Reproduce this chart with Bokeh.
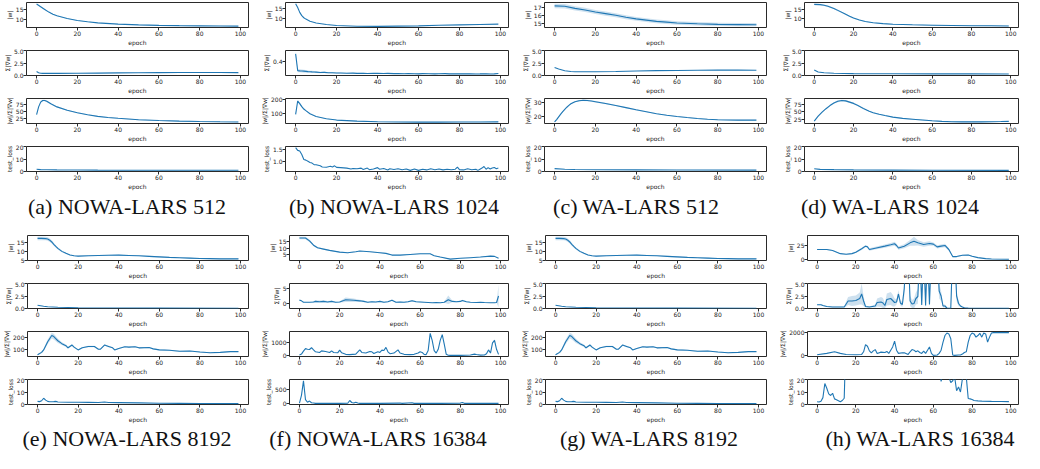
from bokeh.plotting import figure
from bokeh.models import Range1d, DataRange1d, FixedTicker, PrintfTickFormatter, Div
from bokeh.layouts import row, column
from bokeh.embed import file_html
from bokeh.resources import INLINE

# ---------------- data: (epoch, value[, band half-width]) ----------------
a_w = [(0,17.6,.2),(2,16.3,.2),(4,15.0,.2),(6,13.7,.15),(8,12.7,.15),(10,11.9,.15),(15,10.6,.12),(20,9.6,.1),(25,9.0,.1),(30,8.5,.1),(40,7.9,.1),(50,7.5,.1),(60,7.3,.1),(70,7.15,.1),(80,7.05,.1),(90,6.95,.1),(99,6.9,.1)]
a_g = [(0,.8),(1,.55),(2,.45),(3,.42),(5,.42),(10,.42),(20,.45),(30,.48),(40,.52),(50,.55),(60,.58),(70,.6),(80,.6),(90,.6),(99,.58)]
a_r = [(0,37,1),(1,65,2),(2,82,3),(3,88,3),(4,88,3),(5,85,3),(7,76,2),(10,65,2),(15,53,1.5),(20,44,1.5),(25,37,1.5),(30,31,1.5),(35,27,1.5),(40,24,1.5),(50,19,1.5),(60,16,1.5),(70,14,1.5),(80,12.5,1.5),(90,11.5,1.5),(99,11,1.5)]
a_l = [(0,1.8),(2,1.5),(5,1.4),(10,1.3),(20,1.2),(30,1.1),(40,1.05),(60,1.0),(80,1.0),(99,1.0)]

b_w = [(0,17.5),(1,15.5),(2,13.0),(3,11.3),(4,10.2),(5,9.5),(7,8.4),(10,7.5),(15,6.7),(20,6.2),(30,5.8),(40,5.75),(50,5.85),(60,6.0),(70,6.3),(80,6.5),(90,6.7),(99,6.9)]
b_g = [(0,.50,.03),(1,.275,.02),(2,.272,.02),(3,.27,.02),(4,.268,.02),(5,.265,.018),(6,.262,.016),(7,.26,.015),(8,.258,.014),(9,.257,.013),(10,.255,.012),(12,.25,.01),(14,.252,.01),(16,.247,.008),(18,.246,.008),(20,.243,.006),(22,.244,.006),(25,.24,.005),(28,.241,.005),(30,.238,.005),(33,.24,.005),(35,.237,.005),(38,.239,.005),(40,.238,.005),(43,.236,.005),(45,.238,.005),(48,.235,.005),(50,.237,.005),(53,.234,.005),(55,.236,.005),(58,.233,.005),(60,.232,.005),(62,.235,.005),(65,.234,.005),(68,.232,.005),(70,.233,.005),(73,.235,.005),(75,.232,.005),(78,.233,.005),(80,.231,.005),(83,.233,.005),(85,.232,.005),(88,.23,.005),(90,.231,.005),(93,.233,.005),(95,.23,.005),(97,.232,.005),(99,.236,.005)]
b_r = [(0,90,5),(1,190,10),(2,170,8),(3,148,6),(4,130,5),(5,118,4),(7,95,3),(10,75,2),(15,58,2),(20,48,2),(30,40,2),(40,36,2),(50,34,2),(60,33,2),(70,33,2),(80,33.5,2),(90,34,2),(99,35,2)]
b_l = [(0,1.6),(1,1.48),(2,1.45),(3,1.3),(4,1.08),(5,1.05),(6,1.0),(7,.95),(8,.92),(9,.85),(10,.85),(12,.8),(13,.75),(15,.74),(17,.78),(18,.75),(19,.8),(20,.73),(22,.72),(25,.7),(27,.66),(28,.68),(30,.67),(32,.7),(33,.64),(35,.7),(36,.63),(38,.66),(40,.72),(41,.65),(43,.68),(45,.62),(46,.67),(48,.64),(50,.67),(52,.63),(54,.66),(56,.6),(58,.66),(60,.6),(62,.65),(64,.62),(66,.67),(68,.63),(70,.66),(72,.62),(74,.65),(76,.63),(78,.65),(79,.74),(80,.63),(82,.62),(84,.67),(86,.63),(88,.65),(89,.6),(90,.65),(91,.7),(92,.77),(93,.65),(94,.72),(95,.66),(96,.7),(97,.73),(98,.67),(99,.7)]

c_w = [(0,17.2,.28),(5,17.15,.28),(10,16.9,.27),(15,16.7,.26),(20,16.45,.26),(25,16.25,.25),(30,16.05,.25),(35,15.8,.25),(40,15.6,.24),(45,15.45,.24),(50,15.3,.23),(55,15.2,.22),(60,15.1,.22),(70,15.0,.21),(80,14.93,.2),(90,14.9,.2),(99,14.88,.2)]
c_g = [(0,1.6),(2,1.3),(5,.95),(8,.8),(10,.75),(20,.75),(30,.8),(40,.9),(50,.97),(60,1.0),(70,1.05),(80,1.07),(90,1.08),(99,1.05)]
c_r = [(0,15.8,.3),(1,17.5,.4),(2,19.5,.4),(3,21.5,.4),(4,23.3,.4),(5,25,.4),(6,26.5,.4),(7,27.8,.4),(8,29,.4),(9,29.8,.4),(10,30.5,.4),(12,31.2,.5),(14,31.5,.5),(16,31.4,.5),(18,31,.5),(20,30.5,.5),(25,29.2,.5),(30,27.7,.4),(35,26.2,.4),(40,24.6,.4),(45,23.2,.3),(50,21.8,.3),(55,20.7,.3),(60,19.8,.3),(65,19,.3),(70,18.3,.3),(75,17.8,.3),(80,17.4,.3),(85,17.2,.3),(90,17.1,.3),(99,17.1,.3)]
c_l = [(0,2.3),(5,1.8),(10,1.6),(20,1.4),(40,1.3),(60,1.2),(99,1.1)]

d_w = [(0,17.4,.4),(3,17.3,.4),(5,17.0,.4),(7,16.4,.4),(10,15.3,.4),(12,14.3,.4),(15,12.8,.3),(18,11.2,.3),(20,10.3,.3),(23,9.3,.3),(26,8.5,.2),(30,7.9,.2),(35,7.4,.2),(40,7.1,.2),(50,6.8,.2),(60,6.6,.2),(70,6.45,.2),(80,6.35,.2),(90,6.3,.2),(99,6.2,.2)]
d_g = [(0,1.1),(2,.7),(5,.55),(10,.45),(20,.38),(40,.35),(60,.33),(80,.32),(99,.3)]
d_r = [(0,20,1),(2,36,1.5),(4,49,2),(6,60,2),(8,70,2),(10,78,2.5),(12,84,3),(14,86,3),(16,85,3),(18,81,3),(20,77,2.5),(22,71,2),(25,61,2),(28,52,1.5),(30,47,1.5),(33,42,1.5),(36,38,1.5),(40,33,1.5),(45,29,1.5),(50,26.5,1.5),(55,24,1.5),(60,21.5,1.5),(65,19.5,1.5),(70,18.5,1.5),(75,18,1.5),(80,17.8,1.5),(85,18,1.5),(90,18.5,1.5),(95,19,1.5),(99,19.5,1.5)]
d_l = [(0,2.2),(3,1.7),(10,1.5),(20,1.3),(40,1.1),(60,1.0),(99,.9)]

e_w = [(0,17.3,1.0),(2,17.3,1.0),(4,17.2,1.0),(5,17.0,1.0),(6,16.3,1.0),(7,15.3,.9),(8,14.0,.8),(9,12.8,.7),(10,11.7,.6),(12,10.0,.5),(14,8.9,.4),(16,8.0,.3),(18,7.5,.3),(20,7.3,.3),(25,7.5,.3),(30,7.7,.3),(35,7.8,.3),(40,7.9,.3),(45,7.7,.3),(50,7.5,.3),(55,7.2,.3),(60,6.9,.3),(65,6.6,.3),(70,6.4,.3),(75,6.2,.3),(80,6.0,.3),(85,5.9,.3),(90,5.8,.3),(95,5.8,.3),(99,5.8,.3)]
e_g = [(0,.65),(3,.45),(5,.35),(10,.25),(20,.15),(40,.1),(60,.08),(99,.06)]
e_r = [(0,52,5),(2,73,8),(3,94,10),(5,164,20),(7,218,25),(8,209,25),(10,173,20),(12,148,12),(14,130,10),(15,112,8),(17,136,8),(18,118,8),(20,94,6),(22,112,6),(25,124,6),(28,124,6),(30,100,5),(31,100,5),(33,136,6),(35,124,6),(37,112,5),(38,94,5),(40,106,5),(43,121,5),(45,118,5),(48,121,5),(50,112,5),(55,115,5),(57,103,5),(60,94,5),(65,91,5),(70,82,5),(75,85,5),(80,76,5),(85,70,4),(90,73,4),(95,79,4),(99,79,4)]
e_l = [(0,2.5),(1,2.3),(2,3.0),(3,5.0),(4,3.5),(5,2.5),(6,2.2),(8,2.3),(9,2.5),(10,2.0),(15,1.8),(20,1.8),(25,1.7),(30,1.6),(33,2.0),(35,1.6),(40,1.5),(50,1.3),(60,1.0),(70,.9),(80,.8),(99,.7)]

f_w = [(0,17.8,1),(3,17.8,1),(5,15.5,1),(7,12.2,.8),(9,10.2,.6),(12,9.2,.5),(15,8.2,.4),(20,6.9,.3),(24,6.4,.3),(28,7.2,.3),(30,7.7,.3),(35,7.2,.3),(40,6.4,.3),(43,5.9,.3),(46,4.6,.3),(50,4.6,.3),(55,5.1,.3),(60,5.6,.3),(65,5.6,.3),(67,4.1,.3),(70,3.1,.3),(75,1.5,.2),(80,2.1,.2),(85,2.6,.2),(90,3.1,.2),(95,3.8,.2),(97,3.6,.2),(99,2.1,.2)]
f_g = [(0,1.05,.1),(1,.8,.1),(2,.3,.1),(5,.3,.1),(7,.4,.3),(8,.6,.4),(10,.5,.4),(12,.6,.4),(14,.4,.3),(16,.6,.3),(18,.3,.2),(20,.4,.2),(22,.9,.6),(23,1.2,.8),(25,1.1,.7),(27,1.0,.6),(30,.8,.4),(32,.6,.3),(34,.3,.2),(36,.5,.2),(38,.4,.2),(40,.6,.2),(42,.3,.2),(44,.5,.2),(46,1.0,.3),(48,.3,.2),(50,.4,.2),(52,.3,.2),(54,.5,.2),(56,.8,.3),(58,.5,.2),(60,.4,.2),(62,.3,.1),(64,.2,.1),(66,.1,.1),(68,.2,.1),(70,.1,.1),(72,.3,.2),(74,1.2,1.5),(76,.6,.3),(78,.5,.2),(80,.6,.2),(81,.9,.3),(83,.5,.2),(85,.3,.1),(88,.2,.1),(90,.3,.1),(92,.2,.1),(95,.1,.1),(97,.1,.1),(98,.2,.1),(99,2.5,4.0)]
f_r = [(0,50),(1,120),(2,350),(3,550),(4,500),(5,480),(6,620),(7,450),(8,300),(10,250),(11,370),(13,330),(15,250),(16,370),(17,250),(19,220),(20,430),(21,220),(23,100),(25,80),(28,120),(30,450),(31,250),(33,200),(35,330),(36,300),(37,170),(39,300),(40,250),(41,430),(42,400),(43,650),(44,300),(45,150),(47,200),(49,450),(50,200),(52,100),(55,80),(57,100),(59,200),(60,300),(61,250),(62,100),(63,80),(64,400),(65,1750,60),(66,1200),(67,400),(68,200),(69,500),(70,1200),(71,1650,50),(72,900),(73,100),(74,30),(75,20),(78,30),(80,20),(85,50),(87,120),(88,90),(90,40),(92,50),(93,150),(94,450),(95,200),(96,1000),(97,1200,100),(98,500),(99,100)]
f_l = [(0,30),(1,300),(2,800,10),(3,150),(4,60),(5,100),(6,40),(7,30),(8,20),(10,20),(15,20),(20,20),(24,25),(25,120),(26,50),(27,30),(28,60),(29,30),(30,20),(40,20),(50,30),(51,20),(56,40),(57,20),(70,20),(80,30),(81,50),(82,20),(90,20),(99,20)]

g_w = list(e_w)
g_g = list(e_g)
g_r = list(e_r)
g_l = list(e_l)

h_w = [(0,17.3,1),(5,17.3,1),(8,15.5,1),(12,10,.8),(15,9,.8),(18,10,1),(20,12.5,1.5),(23,18.5,2),(25,23.2,2),(26,22,2),(27,17.3,2),(30,19.6,2.5),(35,23.2,3),(38,25.6,3),(40,27.4,3.5),(41,24.4,3),(42,20,3),(45,23.2,3.5),(48,29,5),(50,32,8),(52,29.2,5),(55,26.2,4),(58,28,4),(60,26.8,3),(62,22,3),(64,23.2,3),(66,24.4,3),(68,17.3,2),(70,4.8,1),(72,4.8,1),(75,7.1,1),(78,7.7,1),(80,5.4,1),(83,3,.5),(87,1.2,.3),(90,.6,.2),(99,0,.1)]
h_g = [(0,.75,.1),(2,.75,.1),(3,.6,.1),(5,.4,.1),(8,.3,.1),(14,.3,.1),(15,.9,.5),(16,1.5,.8),(18,1.5,1),(20,1.6,1),(22,2.0,1.2),(23,2.9,2.1),(24,1.5,1),(25,.4,.2),(27,.3,.1),(30,.5,.3),(31,1.2,.8),(33,1.3,1.0),(34,1.1,1.0),(35,.6,.5),(36,1.8,1.2),(38,2.0,1.3),(39,1.6,1.2),(40,1.2,.8),(41,1.3,.5),(42,2.9,.8),(43,1.1,.5),(44,.8,.5),(45,4.0,1.5),(46,12,4),(47,12,4),(48,1.5,1),(49,.9,.8),(50,1.0,1),(51,2.0,1.2),(52,2.4,1.5),(53,12,4),(54,.7,.5),(55,12,4),(56,.6,.5),(57,12,4),(58,.8,.5),(59,12,4),(60,12,4),(61,12,4),(62,12,4),(63,3.5,1.5),(64,2.5,1),(65,.5,.3),(66,.5,.3),(67,.1,.05),(69,.05,.05),(70,12,4),(71,12,4),(72,2.5,1),(73,1.0,.5),(74,.5,.2),(75,.3,.1),(76,.15,.05),(78,.08,.03),(80,.05,.02),(99,.03,.01)]
h_r = [(0,85),(5,200),(9,340),(12,200),(15,110),(20,85),(23,110),(24,340),(25,960),(26,820),(27,420),(28,250),(29,420),(30,530),(31,200),(33,310),(35,280),(36,370),(37,200),(38,480),(39,760),(40,1270),(41,480),(42,200),(44,250),(45,250),(47,110),(48,340),(49,530),(50,480),(51,340),(52,420),(53,280),(54,200),(55,390),(56,200),(57,480),(58,760),(59,200),(60,30),(62,60),(63,200),(64,480),(65,1180),(66,1750),(67,1970),(68,1890),(69,1470),(70,60),(71,30),(73,60),(74,60),(75,140),(76,280),(77,340),(78,1180),(79,1750),(80,1970),(81,1890),(82,1610),(83,1750),(84,1940),(85,1610),(86,1970),(87,1890),(88,1180),(89,1610),(90,1970),(91,2000),(95,2000),(99,2000)]
h_l = [(0,2.2),(1,2.0),(2,2.6),(3,5.5),(4,16.8),(5,13.0),(6,8.5),(7,7.2),(8,9.0),(9,4.5),(10,3.8),(11,3.0),(12,2.2),(13,3.2),(14,5.0),(15,60),(20,80),(30,90),(40,70),(50,60),(60,50),(63,30),(64,18.5),(65,25),(66,30),(67,22),(68,22),(69,17.5),(70,19),(71,22),(72,11),(73,14),(74,10),(75,20.5),(76,30),(77,22),(78,4.8),(79,4.5),(80,4.0),(81,3.2),(83,2.9),(85,2.7),(90,2.5),(95,2.4),(99,2.3)]

# ---------------- labels / ticks ----------------
y_labels = ["|w|", "\u03a3|\u2207w|", "|w|/\u03a3|\u2207w|", "test_loss"]
x_label = "epoch"
x_ticks = [0, 20, 40, 60, 80, 100]
captions = ["(a) NOWA-LARS 512", "(b) NOWA-LARS 1024", "(c) WA-LARS 512", "(d) WA-LARS 1024",
            "(e) NOWA-LARS 8192", "(f) NOWA-LARS 16384", "(g) WA-LARS 8192", "(h) WA-LARS 16384"]
grad_lim = (0, 5)
loss_lim = (0, 20)

panels = [
    ([a_w, a_g, a_r, a_l], [[10, 15], [0, 2.5, 5], [25, 50, 75], [0, 10, 20]], [None, grad_lim, None, loss_lim]),
    ([b_w, b_g, b_r, b_l], [[10, 15], [0.2, 0.4], [100, 200], [1.0, 1.5]], [None, None, None, None]),
    ([c_w, c_g, c_r, c_l], [[15, 16, 17], [0, 2.5, 5], [20, 30], [0, 10, 20]], [None, grad_lim, None, loss_lim]),
    ([d_w, d_g, d_r, d_l], [[10, 15], [0, 2.5, 5], [25, 50, 75], [0, 10, 20]], [None, grad_lim, None, loss_lim]),
    ([e_w, e_g, e_r, e_l], [[5, 10, 15], [0, 2.5, 5], [100, 200], [0, 10, 20]], [None, grad_lim, None, loss_lim]),
    ([f_w, f_g, f_r, f_l], [[5, 10, 15], [0, 5], [0, 1000], [0, 500]], [None, None, None, None]),
    ([g_w, g_g, g_r, g_l], [[5, 10, 15], [0, 2.5, 5], [100, 200], [0, 10, 20]], [None, grad_lim, None, loss_lim]),
    ([h_w, h_g, h_r, h_l], [[0, 25], [0, 2.5, 5], [0, 2000], [0, 10, 20]], [None, grad_lim, None, loss_lim]),
]

# layout geometry (column width, left border, right border)
geom = [(258, 24, 10), (258, 26, 8), (258, 28, 8), (250, 30, 6),
        (258, 25, 10), (258, 30, 8), (258, 29, 8), (250, 33, 6)]
cap_center = [127, 136, 120, 116, 127, 120, 133, 146]

BLUE = "#1f77b4"
FONT = "DejaVu Sans"
FS = "6px"
INK = "#2a2a2a"


def make_sub(series, ticks, ylim, ylabel, colw, L, R):
    xs = [p[0] for p in series]
    ys = [p[1] for p in series]
    hs = [p[2] if len(p) > 2 else 0.0 for p in series]
    yr = Range1d(*ylim) if ylim else DataRange1d(range_padding=0.1)
    p = figure(width=colw, height=48, x_range=Range1d(-4.95, 103.95), y_range=yr,
               output_backend="svg", toolbar_location=None,
               min_border_left=L, min_border_right=R, min_border_top=2, min_border_bottom=20)
    if any(hs):
        p.varea(x=xs, y1=[y - h for y, h in zip(ys, hs)], y2=[y + h for y, h in zip(ys, hs)],
                fill_color=BLUE, fill_alpha=0.22)
    p.line(xs, ys, line_color=BLUE, line_width=1.1)
    p.grid.visible = False
    p.outline_line_color = INK
    p.outline_line_width = 1
    p.background_fill_color = "white"
    for ax in (p.xaxis[0], p.yaxis[0]):
        ax.axis_line_color = None
        ax.major_tick_line_color = INK
        ax.major_tick_out = 3
        ax.major_tick_in = 0
        ax.minor_tick_line_color = None
        ax.major_label_text_font = FONT
        ax.major_label_text_font_size = FS
        ax.major_label_text_color = "#1a1a1a"
        ax.major_label_standoff = 0
        ax.axis_label_text_font = FONT
        ax.axis_label_text_font_size = FS
        ax.axis_label_text_font_style = "normal"
        ax.axis_label_text_color = "#1a1a1a"
        ax.axis_label_standoff = 0
    p.xaxis.ticker = FixedTicker(ticks=x_ticks)
    p.xaxis.axis_label = x_label
    p.yaxis.ticker = FixedTicker(ticks=ticks)
    fmt = "%.1f" if any(float(t) != int(t) for t in ticks) else "%d"
    p.yaxis.formatter = PrintfTickFormatter(format=fmt)
    p.yaxis.axis_label = ylabel
    return p


def make_caption(text, colw, center, height, pad_top):
    html = ('<div style="position:relative;left:%dpx;width:%dpx;text-align:center;white-space:nowrap;'
            'font-family:\'Liberation Serif\',serif;font-size:22px;line-height:22px;color:#111;padding-top:%dpx">%s</div>'
            % (center - colw // 2, colw, pad_top, text))
    return Div(text=html, width=colw, height=height, margin=0)


def build_row(idxs, cap_h, cap_pad):
    cols, caps = [], []
    for i in idxs:
        series_list, ticks_list, lims = panels[i]
        colw, L, R = geom[i]
        figs = [make_sub(s, t, lim, lab, colw, L, R)
                for s, t, lim, lab in zip(series_list, ticks_list, lims, y_labels)]
        cols.append(column(*figs, spacing=0))
        caps.append(make_caption(captions[i], colw, cap_center[i], cap_h, cap_pad))
    return row(*cols, spacing=0), row(*caps, spacing=0)


top, top_caps = build_row([0, 1, 2, 3], 41, 4)
bot, bot_caps = build_row([4, 5, 6, 7], 28, 3)
layout = column(top, top_caps, bot, bot_caps, spacing=0)

open("out.html", "w").write(file_html(layout, INLINE))
